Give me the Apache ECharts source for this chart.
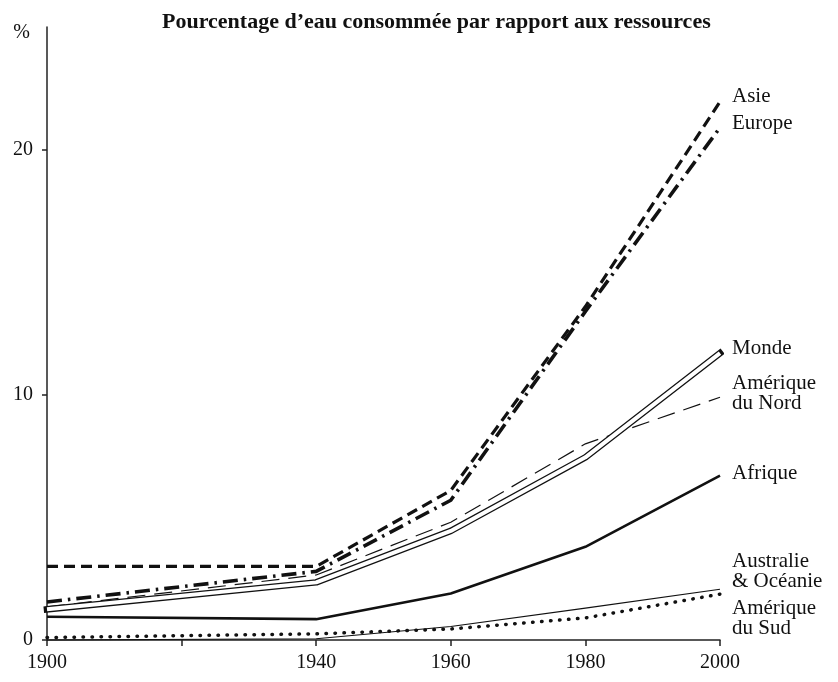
<!DOCTYPE html>
<html>
<head>
<meta charset="utf-8">
<script src="https://cdn.jsdelivr.net/npm/echarts@6/dist/echarts.min.js"></script>
<style>
  html, body { margin: 0; padding: 0; background: #fff; }
  #chart { width: 838px; height: 682px; }
</style>
</head>
<body>
<div id="chart"></div>
<script>
// years on x, % of resources consumed on y
const years = [1900, 1940, 1960, 1980, 2000];
const xLabelYears = [1900, 1940, 1960, 1980, 2000];
const xTickYears = [1900, 1920, 1940, 1960, 1980, 2000];
const yTicks = [0, 10, 20];

const asie = [3.0, 3.0, 6.1, 13.6, 21.95];
const europe = [1.55, 2.8, 5.7, 13.4, 20.9];
const monde = [1.25, 2.35, 4.45, 7.45, 11.7];
const ameriqueNord = [1.35, 2.65, 4.8, 8.0, 9.9];
const afrique = [0.95, 0.85, 1.9, 3.8, 6.7];
const australie = [0.0, 0.05, 0.55, 1.3, 2.07];
const ameriqueSud = [0.1, 0.25, 0.45, 0.9, 1.87];

const chart = echarts.init(document.getElementById("chart"));

const pts = (vals) => years.map((y, i) => [y, vals[i]]);
const serif = "'Liberation Serif', 'DejaVu Serif', serif";

// étiquette en bout de courbe
const endLbl = (text, dy) => ({
  show: true,
  formatter: text,
  offset: [12, dy],
  distance: 0,
  align: "left",
  verticalAlign: "middle",
  color: "#111",
  fontFamily: serif,
  fontSize: 21,
  lineHeight: 20,
});

const line = (name, vals, lineStyle, label) => ({
  name: name,
  type: "line",
  data: pts(vals),
  showSymbol: false,
  symbol: "none",
  clip: false,
  silent: true,
  lineStyle: Object.assign({ color: "#111" }, lineStyle),
  endLabel: label || { show: false },
  z: 3,
});

const options = {
  animation: false,
  backgroundColor: "#fff",
  textStyle: { fontFamily: serif, color: "#111" },
  title: {
    text: "Pourcentage d\u2019eau consommée par rapport aux ressources",
    left: 157,
    top: 6,
    textStyle: {
      fontFamily: serif,
      fontWeight: "bold",
      fontSize: 22,
      color: "#111",
    },
  },
  grid: { left: 47, right: 118, top: 27, bottom: 42 },
  xAxis: {
    type: "value",
    min: 1900,
    max: 2000,
    interval: 20,
    splitLine: { show: false },
    axisLine: { lineStyle: { color: "#222", width: 1.5 } },
    axisTick: { customValues: xTickYears, length: 6, lineStyle: { color: "#222", width: 1.5 } },
    axisLabel: {
      customValues: xLabelYears,
      margin: 13,
      color: "#111",
      fontFamily: serif,
      fontSize: 20,
      formatter: (v) => String(v),
    },
  },
  yAxis: {
    type: "value",
    min: 0,
    max: 25,
    interval: 10,
    name: "%",
    nameLocation: "end",
    nameGap: -6,
    nameTextStyle: {
      align: "right",
      verticalAlign: "middle",
      padding: [0, 17, 0, 0],
      fontFamily: serif,
      fontSize: 20,
      color: "#111",
    },
    splitLine: { show: false },
    axisLine: { show: true, lineStyle: { color: "#222", width: 1.5 } },
    axisTick: { show: true, customValues: yTicks, length: 5, lineStyle: { color: "#222", width: 1.5 } },
    axisLabel: {
      customValues: yTicks,
      margin: 14,
      color: "#111",
      fontFamily: serif,
      fontSize: 20,
    },
  },
  series: [
    line("Australie & Océanie", australie, { width: 1.2 }, endLbl("Australie\n& Océanie", -18)),
    line("Amérique du Sud", ameriqueSud, { width: 3.5, type: [0.5, 8.5], cap: "round" }, endLbl("Amérique\ndu Sud", 24)),
    line("Afrique", afrique, { width: 2.6 }, endLbl("Afrique", -2)),
    line("Amérique du Nord", ameriqueNord, { width: 1.2, type: [18, 9] }, endLbl("Amérique\ndu Nord", -4)),
    // Monde : trait double (noir large + blanc dessus)
    line("Monde", monde, { width: 6.5, cap: "square" }, endLbl("Monde", -5)),
    Object.assign(line("Monde_in", monde, { width: 4, color: "#fff" }), { z: 4 }),
    Object.assign(line("Europe", europe, { width: 3.6, type: [15, 6, 2.5, 6] }, endLbl("Europe", -4)), { z: 5 }),
    Object.assign(line("Asie", asie, { width: 3.2, type: [11, 6] }, endLbl("Asie", -5)), { z: 5 }),
  ],
};

chart.setOption(options);
</script>
</body>
</html>
